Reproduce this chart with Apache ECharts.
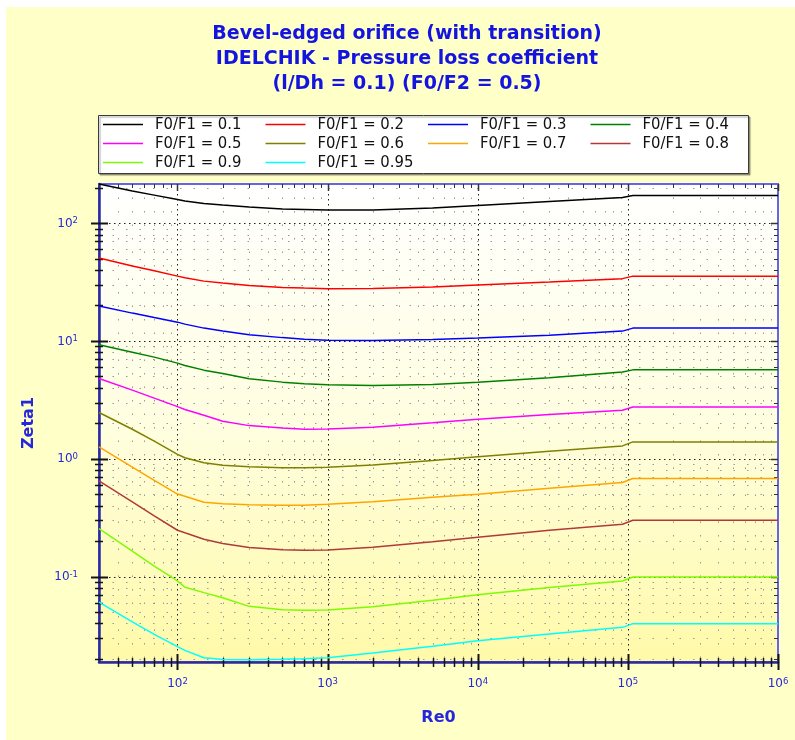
<!DOCTYPE html>
<html><head><meta charset="utf-8">
<script src="https://cdn.jsdelivr.net/npm/echarts@6/dist/echarts.min.js"></script>
<style>
html,body{margin:0;padding:0;background:#fff;}
#wrap{position:relative;width:795px;height:740px;overflow:hidden;}
#bg{position:absolute;left:6px;top:7px;right:0;bottom:0;background:#ffffc8;}
#chart{position:absolute;left:0;top:0;width:795px;height:740px;}
</style></head><body>
<div id="wrap"><div id="bg"></div><div id="chart"></div></div>
<script>
// ---- data ----
const re0 = [30, 50, 70, 100, 112, 150, 200, 300, 500, 700, 1000, 2000, 5000, 10000, 30000, 92000, 108000, 1000000];
const zeta_010 = [215, 187.5, 173, 158.6, 154.1, 146.8, 142.5, 137, 131.8, 130.5, 129.2, 129.6, 134.4, 141.2, 152.6, 165, 171.5, 171.5];
const zeta_020 = [50.5, 43.2, 39.5, 35.5, 34.4, 32.2, 31.0, 29.5, 28.4, 28.1, 27.8, 27.9, 28.7, 29.8, 31.6, 33.8, 35.5, 35.5];
const zeta_030 = [19.76, 17.23, 15.78, 14.44, 13.89, 12.85, 12.12, 11.31, 10.67, 10.36, 10.16, 10.1, 10.3, 10.6, 11.2, 12.12, 12.85, 12.85];
const zeta_040 = [9.30, 8.03, 7.29, 6.48, 6.19, 5.65, 5.28, 4.78, 4.47, 4.34, 4.25, 4.19, 4.26, 4.47, 4.88, 5.46, 5.68, 5.68];
const zeta_050 = [4.80, 3.82, 3.27, 2.77, 2.62, 2.34, 2.08, 1.91, 1.82, 1.78, 1.79, 1.85, 2.02, 2.16, 2.37, 2.58, 2.75, 2.75];
const zeta_060 = [2.47, 1.78, 1.41, 1.09, 1.02, 0.925, 0.881, 0.855, 0.839, 0.839, 0.845, 0.885, 0.965, 1.04, 1.158, 1.285, 1.389, 1.389];
const zeta_070 = [1.26, 0.850, 0.655, 0.501, 0.480, 0.427, 0.415, 0.407, 0.403, 0.403, 0.410, 0.432, 0.470, 0.500, 0.562, 0.628, 0.679, 0.679];
const zeta_080 = [0.648, 0.430, 0.327, 0.247, 0.235, 0.207, 0.191, 0.176, 0.169, 0.167, 0.168, 0.177, 0.197, 0.215, 0.247, 0.278, 0.300, 0.300];
const zeta_090 = [0.255, 0.1643, 0.1226, 0.0919, 0.0810, 0.0730, 0.0661, 0.0558, 0.0521, 0.0516, 0.0519, 0.0553, 0.0630, 0.0700, 0.0805, 0.0916, 0.0990, 0.0990];
const zeta_095 = [0.0607, 0.0412, 0.0323, 0.0254, 0.0236, 0.0204, 0.0197, 0.0196, 0.0198, 0.0200, 0.0204, 0.0224, 0.0256, 0.0285, 0.0325, 0.0370, 0.0398, 0.0398];

const seriesNames = ['F0/F1 = 0.1', 'F0/F1 = 0.2', 'F0/F1 = 0.3', 'F0/F1 = 0.4', 'F0/F1 = 0.5',
                     'F0/F1 = 0.6', 'F0/F1 = 0.7', 'F0/F1 = 0.8', 'F0/F1 = 0.9', 'F0/F1 = 0.95'];
const seriesValues = [zeta_010, zeta_020, zeta_030, zeta_040, zeta_050, zeta_060, zeta_070, zeta_080, zeta_090, zeta_095];
const seriesColors = ['#000000', '#ff0000', '#0000ff', '#008000', '#ff00ff', '#808000', '#ffa500', '#b03a3a', '#7cfc00', '#00ffff'];

const X_MIN = 30, X_MAX = 1000000;
const Y_MIN = 0.0188, Y_MAX = 215;
const xMajorTicks = [100, 1000, 10000, 100000, 1000000];
const yMajorTicks = [0.1, 1, 10, 100];
const minorMultipliers = [2, 3, 4, 5, 6, 7, 8, 9];
function minorTicks(lo, hi) {
  const out = [];
  for (let e = Math.floor(Math.log10(lo)) ; e <= Math.ceil(Math.log10(hi)); e++) {
    const d = Math.pow(10, e);
    minorMultipliers.forEach(m => { const v = m * d; if (v > lo * 1.0001 && v < hi * 0.9999) out.push(v); });
  }
  return out;
}
const xMinorTicks = minorTicks(X_MIN, X_MAX);
const yMinorTicks = minorTicks(Y_MIN, Y_MAX);

// ---- styles ----
const BLUE_TXT = '#2626dc';
const TITLE_CLR = '#1414e0';
const AXIS_DARK = '#2b2b9e';
const FONT = '"DejaVu Sans", Verdana, sans-serif';

function makeGridSeries(axis, values, major) {
  return {
    type: 'custom', silent: true, z: 1, clip: false, animation: false,
    data: values.map(v => axis === 'x' ? [v, Y_MIN] : [X_MIN, v]),
    renderItem: function (params, api) {
      const cs = params.coordSys;
      const L = cs.x, T = cs.y, R = cs.x + cs.width, B = cs.y + cs.height;
      const p = api.coord([api.value(0), api.value(1)]);
      const gridStyle = { stroke: major ? '#1e1e1e' : '#999999', lineWidth: 1, lineDash: major ? [1.5, 3.5] : [1.5, 12] };
      const tickStyle = { stroke: '#141414', lineWidth: major ? 2 : 1.5 };
      const ch = [];
      if (axis === 'x') {
        const x = Math.round(p[0]) + 0.5;
        if (x < R - 2) ch.push({ type: 'line', shape: { x1: x, y1: T, x2: x, y2: B }, style: gridStyle });
        const o = major ? 8 : 5, i = major ? 8 : 4;
        ch.push({ type: 'line', shape: { x1: x, y1: B - i, x2: x, y2: B + o }, style: tickStyle });
        ch.push({ type: 'line', shape: { x1: x, y1: T, x2: x, y2: T + (major ? 7 : 4) }, style: { stroke: '#333', lineWidth: major ? 1.5 : 1 } });
      } else {
        const y = Math.round(p[1]) + 0.5;
        ch.push({ type: 'line', shape: { x1: L, y1: y, x2: R, y2: y }, style: gridStyle });
        const o = major ? 8 : 4, i = major ? 9 : 4;
        ch.push({ type: 'line', shape: { x1: L - o, y1: y, x2: L + i, y2: y }, style: tickStyle });
        ch.push({ type: 'line', shape: { x1: R - (major ? 7 : 4), y1: y, x2: R, y2: y }, style: { stroke: '#333', lineWidth: major ? 1.5 : 1 } });
      }
      return { type: 'group', children: ch };
    }
  };
}

function powLabel(v) {
  const e = Math.log10(v);
  const r = Math.round(e);
  if (Math.abs(e - r) > 1e-6) return '';
  return '{b|10}{s|' + r + '}';
}
const labelRich = {
  b: { fontFamily: FONT, fontSize: 12, color: BLUE_TXT, lineHeight: 13, verticalAlign: 'bottom' },
  s: { fontFamily: FONT, fontSize: 8.5, color: BLUE_TXT, lineHeight: 9, verticalAlign: 'top', padding: [0, 0, 5, 0] }
};

const lineSeries = seriesNames.map((name, k) => ({
  name: name, type: 'line', z: 3, symbol: 'none', showSymbol: false, animation: false,
  lineStyle: { color: seriesColors[k], width: 1.5 },
  itemStyle: { color: seriesColors[k] },
  data: re0.map((x, i) => [x, seriesValues[k][i]])
}));

const chart = echarts.init(document.getElementById('chart'), null, { renderer: 'canvas' });
chart.setOption({
  backgroundColor: 'transparent',
  animation: false,
  graphic: [
    { type: 'rect', z: 0, shape: { x: 98.5, y: 115.5, width: 650, height: 58 },
      style: { fill: '#ffffff', stroke: '#3a3a3a', lineWidth: 1, shadowColor: 'rgba(0,0,0,0.35)', shadowOffsetX: 1.5, shadowOffsetY: 1.5, shadowBlur: 1 } },
    { type: 'text', z: 5, x: 407, y: 21.5,
      style: { text: 'Bevel-edged orifice (with transition)\nIDELCHIK - Pressure loss coefficient\n(l/Dh = 0.1) (F0/F2 = 0.5)',
               font: 'bold 19px "DejaVu Sans", Verdana, sans-serif', fill: TITLE_CLR, align: 'center', verticalAlign: 'top', lineHeight: 25 } }
  ],
  legend: {
    left: 98, top: 115, width: 670, padding: [0, 0, 0, 5], z: 4,
    itemWidth: 40, itemHeight: 1.5, itemGap: 0, icon: 'rect',
    textStyle: { fontFamily: '"DejaVu Sans Condensed", "DejaVu Sans", sans-serif', fontSize: 16.5, color: '#111',
                 width: 110.5, lineHeight: 19, padding: [0, 0, 0, 7] },
    data: seriesNames
  },
  grid: {
    left: 99, top: 184, right: 17, bottom: 78, containLabel: false, show: true,
    borderColor: '#6464f2', borderWidth: 2,
    backgroundColor: new echarts.graphic.LinearGradient(0, 0, 0, 1, [
      { offset: 0, color: '#ffffff' }, { offset: 0.5, color: '#fffee0' }, { offset: 1, color: '#fffaa8' }])
  },
  xAxis: {
    type: 'log', logBase: 10, min: X_MIN, max: X_MAX, splitNumber: 4,
    name: 'Re0', nameLocation: 'middle', nameGap: 48,
    nameTextStyle: { fontFamily: FONT, fontWeight: 'bold', fontSize: 16, color: BLUE_TXT },
    axisLine: { show: true, lineStyle: { color: AXIS_DARK, width: 2.5 } },
    axisTick: { show: false }, splitLine: { show: false }, minorTick: { show: false },
    axisLabel: { margin: 15, formatter: powLabel, rich: labelRich }
  },
  yAxis: {
    type: 'log', logBase: 10, min: Y_MIN, max: Y_MAX, splitNumber: 4,
    name: 'Zeta1', nameLocation: 'middle', nameGap: 62, nameRotate: 90,
    nameTextStyle: { fontFamily: FONT, fontWeight: 'bold', fontSize: 16, color: BLUE_TXT },
    axisLine: { show: true, lineStyle: { color: AXIS_DARK, width: 2.5 } },
    axisTick: { show: false }, splitLine: { show: false }, minorTick: { show: false },
    axisLabel: { margin: 21, formatter: powLabel, rich: labelRich }
  },
  series: [
    makeGridSeries('x', xMinorTicks, false),
    makeGridSeries('y', yMinorTicks, false),
    makeGridSeries('x', xMajorTicks, true),
    makeGridSeries('y', yMajorTicks, true)
  ].concat(lineSeries)
});
</script>
</body></html>
